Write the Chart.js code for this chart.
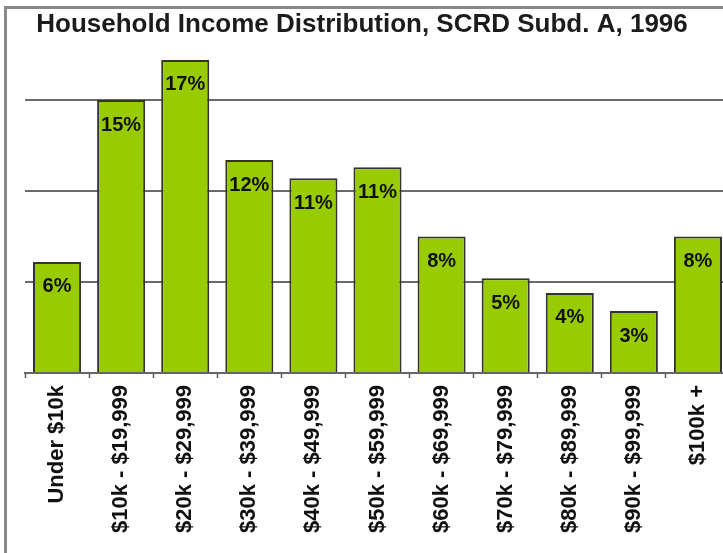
<!DOCTYPE html>
<html>
<head>
<meta charset="utf-8">
<script src="https://cdn.jsdelivr.net/npm/chart.js@4"></script>
<style>
  html, body { margin: 0; padding: 0; background: #fff; }
  #wrap { position: relative; width: 723px; height: 553px; overflow: hidden; }
  #frame { position: absolute; left: 4px; top: 6px; width: 740px; height: 560px;
           border-left: 3px solid #888; border-top: 3px solid #888; pointer-events: none; }
  canvas { position: absolute; left: 0; top: 0; }
</style>
</head>
<body>
<div id="wrap">
  <canvas id="incomeChart" width="735" height="553"></canvas>
  <div id="frame"></div>
</div>
<script>
const chartTitle = 'Household Income Distribution, SCRD Subd. A, 1996';
const incomeLabels = ['Under $10k', '$10k - $19,999', '$20k - $29,999', '$30k - $39,999', '$40k - $49,999',
    '$50k - $59,999', '$60k - $69,999', '$70k - $79,999', '$80k - $89,999', '$90k - $99,999', '$100k +'];
const householdShare = [6.1, 15.0, 17.2, 11.7, 10.7, 11.3, 7.5, 5.2, 4.4, 3.4, 7.5];
const yTicks = [0, 5, 10, 15, 20];

var fontFamily = '"Liberation Sans", Arial, sans-serif';

// title sits over the plot area, so draw it by hand
const titlePlugin = {
    id: 'overlayTitle',
    afterDraw(chart) {
        const ctx = chart.ctx;
        ctx.save();
        ctx.font = 'bold 26px ' + fontFamily;
        ctx.fillStyle = '#1c1c1c';
        ctx.textAlign = 'center';
        ctx.textBaseline = 'middle';
        ctx.fillText(chartTitle, 362, 25);
        ctx.restore();
    }
};

const barLabelPlugin = {
    id: 'barLabels',
    afterDatasetsDraw(chart) {
        const ctx = chart.ctx;
        const meta = chart.getDatasetMeta(0);
        ctx.save();
        ctx.font = 'bold 20px ' + fontFamily;
        ctx.fillStyle = '#111';
        ctx.textAlign = 'center';
        ctx.textBaseline = 'middle';
        meta.data.forEach((bar, i) => {
            ctx.fillText(Math.round(householdShare[i]) + '%', bar.x, bar.y + 25);
        });
        ctx.restore();
    }
};

const incomeChart = new Chart(document.getElementById('incomeChart'), {
    type: 'bar',
    data: {
        labels: incomeLabels,
        datasets: [{
            data: householdShare,
            backgroundColor: '#99cc00',
            borderColor: '#333',
            borderWidth: 2,
            barPercentage: 0.75,
            categoryPercentage: 1.0
        }]
    },
    options: {
        responsive: false,
        animation: false,
        layout: { padding: { left: 25, right: 5, top: 9, bottom: 0 } },
        plugins: {
            legend: { display: false },
            title: { display: false },
            tooltip: { enabled: false }
        },
        scales: {
            x: {
                offset: true,
                grid: {
                    offset: true,
                    drawOnChartArea: false,
                    drawTicks: true,
                    tickLength: 5,
                    tickColor: '#555',
                    tickWidth: 1.5
                },
                border: { display: true, color: '#666', width: 2 },
                ticks: {
                    autoSkip: false,
                    minRotation: 90,
                    maxRotation: 90,
                    padding: 7,
                    color: '#111',
                    font: { family: fontFamily, size: 22, weight: 'bold' }
                },
                afterFit(scale) { scale.height = 180; }
            },
            y: {
                min: yTicks[0],
                max: yTicks[yTicks.length - 1],
                afterBuildTicks(scale) { scale.ticks = yTicks.map(v => ({ value: v })); },
                grid: {
                    drawTicks: false,
                    color: ctx => (ctx.tick && ctx.tick.value > 0 && ctx.tick.value < 20) ? '#6a6a6a' : 'rgba(0,0,0,0)',
                    lineWidth: 2
                },
                border: { display: false },
                ticks: { display: false },
                afterFit(scale) { scale.width = 0; }
            }
        }
    },
    plugins: [titlePlugin, barLabelPlugin]
});
</script>
</body>
</html>
